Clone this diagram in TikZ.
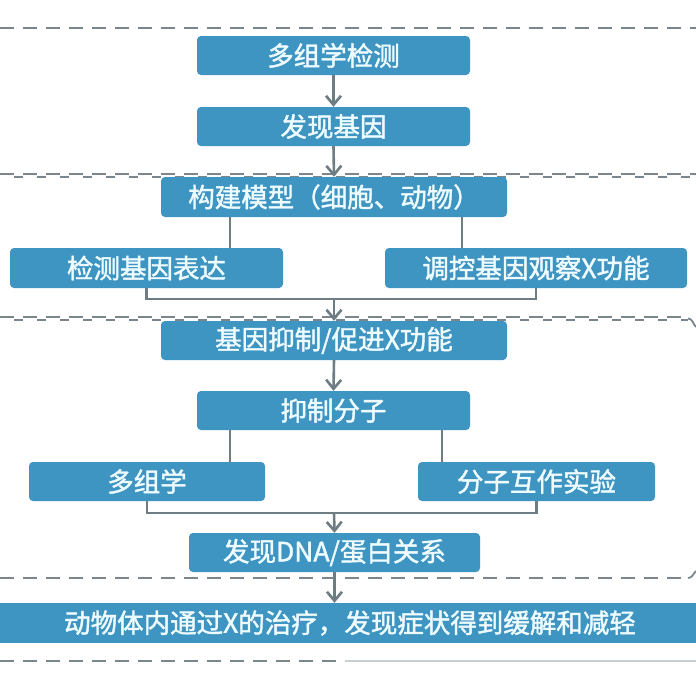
\documentclass[tikz,border=0pt]{standalone}
\usepackage{fontspec}
\setmainfont{Noto Sans CJK SC}[FakeBold=1.6]
\usetikzlibrary{arrows.meta}
\definecolor{boxblue}{HTML}{3E95C2}
\definecolor{txt}{HTML}{EEFBFF}
\definecolor{linegrey}{HTML}{6E7C84}
\definecolor{dashgrey}{HTML}{7A868C}
\definecolor{fadegrey}{HTML}{C8CED2}
\begin{document}
\begin{tikzpicture}[x=1pt,y=-1pt,
  stepbox/.style={fill=boxblue, rounded corners=4pt, text=txt,
    font=\fontsize{26.5}{26.5}\selectfont, inner sep=0pt, minimum height=39pt},
  conn/.style={draw=linegrey, line width=2.6pt},
  arr/.style={conn, -{Straight Barb[length=9pt,width=15pt]}},
  sep/.style={draw=dashgrey, line width=2pt, dash pattern=on 14pt off 9pt},
  sepa/.style={draw=dashgrey, line width=1.8pt, dash pattern=on 14pt off 9pt},
  sepb/.style={draw=dashgrey, line width=1.8pt, dash pattern=on 9pt off 14pt, dash phase=-14pt}]
\useasboundingbox[fill=white] (0,0) rectangle (696,697);

% separators
\draw[sep] (0,28) -- (696,28);
\draw[sepa] (0,174) -- (696,174);
\draw[sepb] (0,177) -- (696,177);
\draw[sepa] (0,317) -- (688,317);
\draw[sepb] (0,320) -- (688,320);
\draw[dashgrey, line width=1.8pt] (688,318.5) to[out=0,in=135] (696,327);
\draw[sep] (0,578) -- (688,578);
\draw[dashgrey, line width=1.8pt] (688,578) to[out=0,in=-135] (696,571);
\draw[sep] (0,661) -- (345,661);
\draw[fadegrey, line width=1.8pt] (345,661) -- (696,661);

% boxes
\node[stepbox, minimum width=273pt] (b1) at (333.5,55.5) {多组学检测};
\node[stepbox, minimum width=273pt] (b2) at (333.5,126.5) {发现基因};
\node[stepbox, minimum width=346pt, minimum height=40pt] (b3) at (334,197) {构建模型（细胞、动物）};
\node[stepbox, minimum width=273pt, minimum height=40pt] (b4) at (146.5,268) {检测基因表达};
\node[stepbox, minimum width=302pt, minimum height=40pt] (b5) at (536,268) {调控基因观察X功能};
\node[stepbox, minimum width=346pt] (b6) at (334,340.5) {基因抑制/促进X功能};
\node[stepbox, minimum width=273pt] (b7) at (333.5,410.5) {抑制分子};
\node[stepbox, minimum width=236pt] (b8) at (147,481.5) {多组学};
\node[stepbox, minimum width=237pt] (b9) at (536.5,481.5) {分子互作实验};
\node[stepbox, minimum width=291pt] (b10) at (334.5,552.5) {发现DNA/蛋白关系};
\node[stepbox, minimum width=720pt, minimum height=40pt, rounded corners=0pt] (b11) at (350,623) {动物体内通过X的治疗，发现症状得到缓解和减轻};

% helper coordinates
\coordinate (xa) at (230,0);
\coordinate (xb) at (462,0);
\coordinate (xc) at (442,0);
\coordinate (j1) at (334,299);
\coordinate (j2) at (334,513);

% connectors
\draw[arr] (b1.south) -- (b2.north);
\draw[arr] (b2.south) -- (b3.north);
\draw[conn] (xa |- b3.south) -- (xa |- b4.north);
\draw[conn] (xb |- b3.south) -- (xb |- b5.north);
\draw[conn] (b4.south) |- (j1) -| (b5.south);
\draw[arr] (j1) -- (b6.north);
\draw[arr] (b6.south) -- (b7.north);
\draw[conn] (xa |- b7.south) -- (xa |- b8.north);
\draw[conn] (xc |- b7.south) -- (xc |- b9.north);
\draw[conn] (b8.south) |- (j2) -| (b9.south);
\draw[arr] (j2) -- (b10.north);
\draw[arr] (b10.south) -- (b10.south |- b11.north);
\end{tikzpicture}
\end{document}
